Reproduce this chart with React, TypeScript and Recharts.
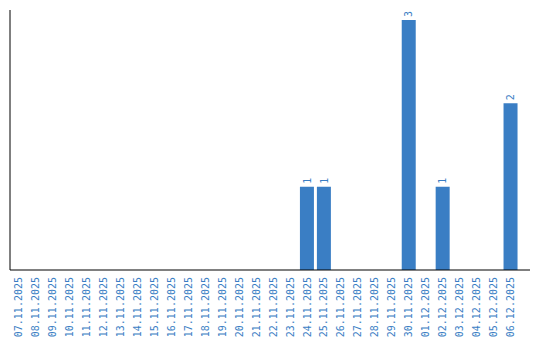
import React from "react";
import { BarChart, Bar, XAxis, YAxis, LabelList } from "recharts";

const dates = [
  "07.11.2025", "08.11.2025", "09.11.2025", "10.11.2025", "11.11.2025",
  "12.11.2025", "13.11.2025", "14.11.2025", "15.11.2025", "16.11.2025",
  "17.11.2025", "18.11.2025", "19.11.2025", "20.11.2025", "21.11.2025",
  "22.11.2025", "23.11.2025", "24.11.2025", "25.11.2025", "26.11.2025",
  "27.11.2025", "28.11.2025", "29.11.2025", "30.11.2025", "01.12.2025",
  "02.12.2025", "03.12.2025", "04.12.2025", "05.12.2025", "06.12.2025",
];
const counts = [
  0, 0, 0, 0, 0, 0, 0, 0, 0, 0,
  0, 0, 0, 0, 0, 0, 0, 1, 1, 0,
  0, 0, 0, 3, 0, 1, 0, 0, 0, 2,
];

const data = dates.map((d, i) => ({ date: d, value: counts[i] }));

const BLUE = "#3a7ec4";
const FONT = "'DejaVu Sans Mono', monospace";

const DateTick = (props: any) => {
  const { x, payload } = props;
  return (
    <text
      x={0}
      y={0}
      transform={`translate(${x + 3.6}, 277) rotate(-90)`}
      textAnchor="end"
      fill={BLUE}
      fontSize={10}
      fontFamily={FONT}
    >
      {payload.value}
    </text>
  );
};

const ValueLabel = (props: any) => {
  const { x, y, width, value } = props;
  if (!value) return null;
  const cx = Number(x) + Number(width) / 2;
  return (
    <text
      x={0}
      y={0}
      transform={`translate(${cx + 3.6}, ${Number(y) - 3}) rotate(-90)`}
      textAnchor="start"
      fill={BLUE}
      fontSize={10}
      fontFamily={FONT}
    >
      {value}
    </text>
  );
};

export default function App() {
  return (
    <div style={{ position: "absolute", left: 0, top: 0, width: 540, height: 340, background: "#fff" }}>
      <BarChart
        width={540}
        height={340}
        data={data}
        margin={{ top: 10, right: 10, bottom: 0, left: 9 }}
        barCategoryGap={1.5}
      >
        <XAxis
          dataKey="date"
          interval={0}
          height={70}
          tickLine={false}
          axisLine={{ stroke: "#000", strokeWidth: 1 }}
          tick={<DateTick />}
          padding={{ left: 0, right: 11 }}
        />
        <YAxis
          width={1}
          domain={[0, 3.12]}
          tick={false}
          tickLine={false}
          axisLine={{ stroke: "#000", strokeWidth: 1 }}
        />
        <Bar dataKey="value" fill={BLUE} isAnimationActive={false}>
          <LabelList dataKey="value" content={<ValueLabel />} />
        </Bar>
      </BarChart>
    </div>
  );
}
